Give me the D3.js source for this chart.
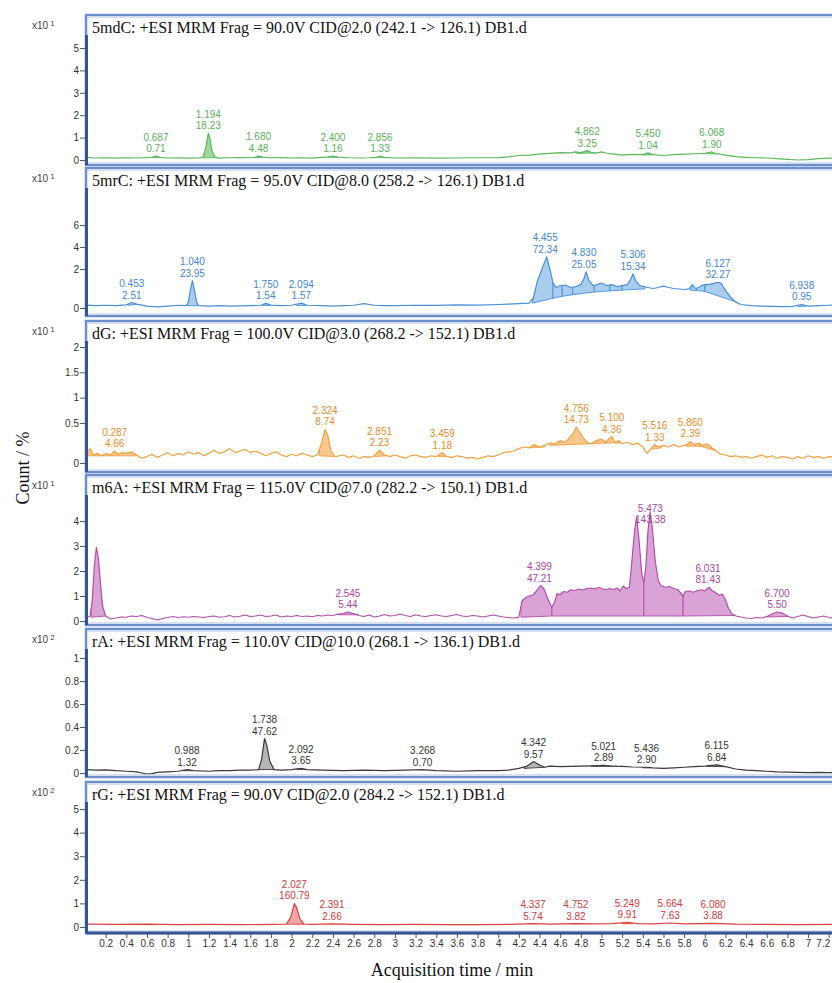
<!DOCTYPE html>
<html><head><meta charset="utf-8">
<script src="https://cdn.jsdelivr.net/npm/d3@7"></script>
<style>body{margin:0;background:#fff} svg{display:block}</style>
</head><body><svg id="c" width="832" height="983"></svg>
<script>
// ---------------- DATA ----------------
const xTicks = [0.2,0.4,0.6,0.8,1,1.2,1.4,1.6,1.8,2,2.2,2.4,2.6,2.8,3,3.2,3.4,3.6,3.8,4,4.2,4.4,4.6,4.8,5,5.2,5.4,5.6,5.8,6,6.2,6.4,6.6,6.8,7,7.2];
const titles = [
  "5mdC: +ESI MRM Frag = 90.0V CID@2.0 (242.1 -> 126.1) DB1.d",
  "5mrC: +ESI MRM Frag = 95.0V CID@8.0 (258.2 -> 126.1) DB1.d",
  "dG: +ESI MRM Frag = 100.0V CID@3.0 (268.2 -> 152.1) DB1.d",
  "m6A: +ESI MRM Frag = 115.0V CID@7.0 (282.2 -> 150.1) DB1.d",
  "rA: +ESI MRM Frag = 110.0V CID@10.0 (268.1 -> 136.1) DB1.d",
  "rG: +ESI MRM Frag = 90.0V CID@2.0 (284.2 -> 152.1) DB1.d"
];
const exponents = [1,1,1,1,2,2];
const yTicks = [[0,1,2,3,4,5],[0,2,4,6],[0,0.5,1,1.5,2],[0,1,2,3,4],[0,0.2,0.4,0.6,0.8,1],[0,1,2,3,4,5]];
const yTickLabels = [["0","1","2","3","4","5"],["0","2","4","6"],["0","0.5","1","1.5","2"],["0","1","2","3","4"],["0","0.2","0.4","0.6","0.8","1"],["0","1","2","3","4","5"]];

const trace5mdC = [[0.02,0.12],[0.1,0.09],[0.2,0.1],[0.3,0.08],[0.4,0.1],[0.5,0.09],[0.6,0.11],[0.65,0.13],[0.687,0.17],[0.73,0.12],[0.8,0.09],[0.9,0.1],[1.0,0.08],[1.1,0.09],[1.14,0.12],[1.17,0.55],[1.194,1.2],[1.21,0.95],[1.23,0.4],[1.26,0.12],[1.3,0.08],[1.4,0.1],[1.5,0.11],[1.6,0.1],[1.65,0.13],[1.68,0.18],[1.72,0.13],[1.8,0.1],[1.9,0.11],[2.0,0.09],[2.1,0.1],[2.2,0.08],[2.3,0.12],[2.35,0.14],[2.4,0.17],[2.45,0.13],[2.55,0.1],[2.65,0.09],[2.75,0.1],[2.82,0.12],[2.856,0.16],[2.9,0.12],[3.0,0.09],[3.2,0.1],[3.4,0.08],[3.6,0.09],[3.8,0.1],[4.0,0.11],[4.1,0.14],[4.2,0.2],[4.3,0.22],[4.4,0.26],[4.5,0.3],[4.6,0.33],[4.7,0.32],[4.75,0.36],[4.8,0.33],[4.862,0.42],[4.9,0.34],[4.95,0.31],[5.0,0.36],[5.05,0.3],[5.1,0.27],[5.2,0.22],[5.3,0.25],[5.4,0.24],[5.45,0.32],[5.5,0.24],[5.6,0.2],[5.7,0.24],[5.8,0.26],[5.9,0.28],[6.0,0.3],[6.068,0.36],[6.1,0.3],[6.2,0.22],[6.3,0.15],[6.4,0.12],[6.5,0.1],[6.6,0.09],[6.7,0.06],[6.8,0.03],[6.9,0.0],[7.0,0.02],[7.1,0.06],[7.2,0.08],[7.3,0.09]];
const trace5mrC = [[0.02,0.15],[0.1,0.12],[0.2,0.14],[0.3,0.12],[0.4,0.16],[0.453,0.28],[0.5,0.2],[0.6,0.1],[0.7,0.06],[0.8,0.1],[0.9,0.14],[0.98,0.12],[1.0,0.3],[1.02,0.9],[1.04,1.4],[1.06,0.9],[1.08,0.3],[1.1,0.12],[1.2,0.1],[1.3,0.12],[1.4,0.1],[1.5,0.11],[1.6,0.12],[1.7,0.14],[1.75,0.24],[1.8,0.15],[1.9,0.12],[2.0,0.14],[2.094,0.25],[2.15,0.14],[2.3,0.12],[2.4,0.1],[2.5,0.12],[2.6,0.14],[2.7,0.22],[2.8,0.14],[2.9,0.12],[3.0,0.12],[3.2,0.14],[3.4,0.13],[3.6,0.16],[3.8,0.15],[4.0,0.18],[4.1,0.2],[4.2,0.22],[4.3,0.25],[4.34,0.5],[4.38,1.4],[4.42,1.95],[4.44,2.4],[4.47,3.1],[4.5,2.0],[4.53,1.3],[4.56,1.05],[4.6,1.15],[4.65,1.18],[4.7,1.05],[4.75,1.1],[4.8,1.2],[4.83,1.5],[4.85,1.85],[4.88,1.4],[4.92,1.15],[4.96,1.2],[5.0,1.28],[5.05,1.15],[5.1,1.2],[5.15,1.1],[5.2,1.15],[5.25,1.2],[5.28,1.45],[5.306,1.75],[5.33,1.4],[5.37,1.15],[5.45,1.05],[5.5,1.0],[5.55,1.05],[5.6,1.12],[5.65,1.05],[5.7,1.0],[5.8,0.95],[5.85,0.98],[5.88,1.2],[5.91,1.0],[5.94,1.05],[5.97,1.15],[6.0,1.2],[6.05,1.22],[6.1,1.28],[6.127,1.32],[6.16,1.25],[6.2,0.9],[6.25,0.55],[6.3,0.3],[6.35,0.18],[6.45,0.12],[6.55,0.1],[6.65,0.08],[6.75,0.07],[6.85,0.08],[6.938,0.18],[7.0,0.1],[7.1,0.12],[7.2,0.14],[7.3,0.15]];
const tracedG = [[0.02,0.14],[0.05,0.18],[0.08,0.1],[0.12,0.12],[0.16,0.09],[0.2,0.12],[0.25,0.1],[0.287,0.15],[0.32,0.11],[0.36,0.13],[0.4,0.12],[0.45,0.14],[0.5,0.1],[0.55,0.06],[0.6,0.08],[0.65,0.11],[0.7,0.07],[0.75,0.1],[0.8,0.13],[0.85,0.09],[0.9,0.12],[0.95,0.1],[1.0,0.14],[1.05,0.11],[1.1,0.13],[1.15,0.09],[1.2,0.12],[1.25,0.16],[1.3,0.12],[1.35,0.14],[1.4,0.18],[1.45,0.13],[1.5,0.15],[1.55,0.17],[1.6,0.13],[1.65,0.15],[1.7,0.12],[1.75,0.09],[1.8,0.12],[1.85,0.14],[1.9,0.1],[1.95,0.08],[2.0,0.11],[2.05,0.09],[2.1,0.12],[2.15,0.1],[2.2,0.08],[2.25,0.1],[2.29,0.25],[2.324,0.42],[2.35,0.35],[2.38,0.15],[2.42,0.08],[2.5,0.1],[2.55,0.07],[2.6,0.09],[2.65,0.06],[2.7,0.08],[2.75,0.07],[2.8,0.09],[2.851,0.16],[2.9,0.1],[2.95,0.08],[3.0,0.1],[3.05,0.08],[3.1,0.06],[3.15,0.09],[3.2,0.1],[3.25,0.08],[3.3,0.07],[3.35,0.09],[3.4,0.08],[3.459,0.13],[3.5,0.08],[3.55,0.07],[3.6,0.09],[3.65,0.08],[3.7,0.06],[3.75,0.07],[3.8,0.05],[3.85,0.07],[3.9,0.09],[3.95,0.08],[4.0,0.1],[4.05,0.13],[4.1,0.14],[4.15,0.15],[4.2,0.18],[4.25,0.2],[4.3,0.19],[4.35,0.23],[4.4,0.2],[4.45,0.22],[4.5,0.25],[4.55,0.24],[4.6,0.28],[4.65,0.26],[4.7,0.33],[4.73,0.38],[4.756,0.45],[4.78,0.4],[4.82,0.32],[4.86,0.26],[4.9,0.24],[4.95,0.28],[5.0,0.3],[5.04,0.26],[5.07,0.3],[5.1,0.33],[5.13,0.26],[5.17,0.28],[5.2,0.24],[5.25,0.26],[5.3,0.23],[5.35,0.25],[5.4,0.2],[5.44,0.12],[5.48,0.18],[5.516,0.23],[5.55,0.2],[5.6,0.22],[5.65,0.2],[5.7,0.23],[5.75,0.2],[5.8,0.22],[5.84,0.24],[5.86,0.27],[5.9,0.23],[5.94,0.25],[5.98,0.22],[6.02,0.24],[6.06,0.2],[6.1,0.16],[6.15,0.11],[6.2,0.1],[6.25,0.08],[6.3,0.09],[6.35,0.07],[6.4,0.08],[6.45,0.06],[6.5,0.08],[6.55,0.1],[6.6,0.07],[6.65,0.09],[6.7,0.06],[6.75,0.08],[6.8,0.07],[6.85,0.05],[6.9,0.08],[6.95,0.06],[7.0,0.09],[7.05,0.07],[7.1,0.08],[7.15,0.06],[7.2,0.08],[7.3,0.07]];
const tracem6A = [[0.02,0.15],[0.05,0.2],[0.07,0.8],[0.09,2.2],[0.11,2.95],[0.13,2.5],[0.15,1.5],[0.17,0.6],[0.2,0.2],[0.25,0.08],[0.3,0.12],[0.35,0.16],[0.4,0.15],[0.45,0.2],[0.5,0.18],[0.55,0.22],[0.6,0.14],[0.65,0.1],[0.7,0.04],[0.75,0.1],[0.8,0.14],[0.85,0.18],[0.9,0.14],[0.95,0.17],[1.0,0.15],[1.05,0.18],[1.1,0.16],[1.15,0.14],[1.2,0.18],[1.25,0.2],[1.3,0.15],[1.35,0.17],[1.4,0.22],[1.45,0.16],[1.5,0.19],[1.55,0.24],[1.6,0.18],[1.65,0.2],[1.7,0.24],[1.75,0.18],[1.8,0.2],[1.85,0.24],[1.9,0.16],[1.95,0.2],[2.0,0.18],[2.05,0.22],[2.1,0.18],[2.15,0.2],[2.2,0.17],[2.25,0.22],[2.3,0.2],[2.35,0.24],[2.4,0.22],[2.45,0.28],[2.5,0.3],[2.545,0.36],[2.6,0.3],[2.65,0.22],[2.7,0.18],[2.75,0.24],[2.8,0.16],[2.85,0.2],[2.9,0.26],[2.95,0.2],[3.0,0.22],[3.05,0.28],[3.1,0.22],[3.15,0.18],[3.2,0.25],[3.25,0.2],[3.3,0.18],[3.35,0.22],[3.4,0.25],[3.45,0.2],[3.5,0.18],[3.55,0.22],[3.6,0.26],[3.65,0.2],[3.7,0.18],[3.75,0.22],[3.8,0.2],[3.85,0.16],[3.9,0.2],[3.95,0.24],[4.0,0.2],[4.05,0.16],[4.1,0.14],[4.15,0.12],[4.2,0.15],[4.23,0.8],[4.27,0.95],[4.3,1.0],[4.34,1.05],[4.37,1.2],[4.41,1.42],[4.44,1.3],[4.47,1.0],[4.5,0.7],[4.52,0.55],[4.55,0.8],[4.57,1.1],[4.6,1.05],[4.63,1.18],[4.67,1.15],[4.7,1.25],[4.74,1.22],[4.78,1.28],[4.82,1.24],[4.86,1.3],[4.9,1.32],[4.94,1.28],[4.97,1.35],[5.0,1.3],[5.04,1.25],[5.08,1.3],[5.12,1.26],[5.15,1.32],[5.18,1.2],[5.21,1.4],[5.24,1.3],[5.27,1.35],[5.29,2.2],[5.32,3.6],[5.34,4.15],[5.36,3.4],[5.39,1.9],[5.41,1.5],[5.43,2.2],[5.45,3.6],[5.47,4.35],[5.49,3.8],[5.52,2.4],[5.55,1.6],[5.58,1.4],[5.62,1.35],[5.66,1.38],[5.7,1.3],[5.74,1.25],[5.77,1.1],[5.79,1.0],[5.81,1.18],[5.85,1.2],[5.89,1.15],[5.93,1.22],[5.97,1.25],[6.0,1.2],[6.04,1.35],[6.07,1.22],[6.1,1.15],[6.14,1.02],[6.17,1.08],[6.2,0.85],[6.23,0.5],[6.26,0.3],[6.3,0.2],[6.35,0.16],[6.4,0.12],[6.45,0.1],[6.5,0.14],[6.55,0.12],[6.6,0.18],[6.65,0.28],[6.7,0.36],[6.75,0.32],[6.8,0.2],[6.85,0.12],[6.9,0.18],[6.95,0.24],[7.0,0.18],[7.05,0.12],[7.1,0.16],[7.15,0.2],[7.2,0.14],[7.25,0.12],[7.3,0.15]];
const tracerA = [[0.02,0.03],[0.1,0.025],[0.2,0.028],[0.3,0.02],[0.4,0.015],[0.5,0.01],[0.55,0.0],[0.6,-0.01],[0.65,-0.005],[0.7,0.005],[0.8,0.01],[0.9,0.015],[0.988,0.03],[1.05,0.02],[1.2,0.015],[1.3,0.02],[1.4,0.02],[1.5,0.025],[1.6,0.025],[1.68,0.03],[1.71,0.12],[1.738,0.3],[1.76,0.24],[1.79,0.1],[1.83,0.03],[1.9,0.025],[2.0,0.03],[2.092,0.04],[2.15,0.03],[2.3,0.025],[2.5,0.02],[2.7,0.025],[2.9,0.02],[3.1,0.025],[3.268,0.03],[3.4,0.02],[3.6,0.015],[3.8,0.02],[4.0,0.02],[4.1,0.025],[4.2,0.04],[4.28,0.06],[4.342,0.1],[4.4,0.07],[4.45,0.05],[4.5,0.06],[4.6,0.055],[4.7,0.058],[4.8,0.06],[4.9,0.062],[5.021,0.066],[5.1,0.06],[5.2,0.058],[5.3,0.052],[5.436,0.05],[5.5,0.045],[5.6,0.04],[5.7,0.045],[5.8,0.05],[5.9,0.055],[6.0,0.06],[6.115,0.07],[6.2,0.055],[6.3,0.035],[6.4,0.025],[6.5,0.02],[6.6,0.015],[6.7,0.01],[6.8,0.008],[6.9,0.005],[7.0,0.003],[7.1,0.005],[7.2,0.003],[7.3,0.002]];
const tracerG = [[0.02,0.12],[0.3,0.11],[0.6,0.12],[0.9,0.1],[1.2,0.11],[1.5,0.1],[1.8,0.11],[1.95,0.12],[1.99,0.4],[2.027,1.0],[2.05,0.8],[2.08,0.35],[2.12,0.12],[2.2,0.11],[2.391,0.13],[2.6,0.11],[2.9,0.1],[3.2,0.11],[3.5,0.1],[3.8,0.1],[4.1,0.11],[4.337,0.14],[4.5,0.12],[4.752,0.14],[4.9,0.13],[5.1,0.14],[5.249,0.2],[5.35,0.14],[5.5,0.13],[5.664,0.17],[5.8,0.13],[6.08,0.15],[6.3,0.12],[6.6,0.11],[6.9,0.1],[7.3,0.11]];

// integrated regions: [start, end, baseline at start, baseline at end]
const fills5mdC = [[0.65,0.73,0.1,0.11],[1.15,1.26,0.1,0.1],[1.64,1.72,0.1,0.12],[2.35,2.45,0.12,0.12],[2.82,2.9,0.11,0.12],[4.75,4.95,0.3,0.31],[5.4,5.5,0.22,0.23],[6.0,6.13,0.28,0.27]];
const fills5mrC = [[0.42,0.5,0.14,0.18],[0.99,1.1,0.12,0.12],[1.72,1.79,0.13,0.14],[2.05,2.14,0.13,0.14],[4.33,4.53,0.25,0.5],[4.53,4.62,0.5,0.6],[4.62,4.72,0.6,0.68],[4.72,4.93,0.68,0.82],[4.93,5.08,0.82,0.88],[5.08,5.2,0.88,0.92],[5.2,5.42,0.92,0.98],[5.86,5.92,0.92,0.9],[5.92,6.0,0.9,0.85],[6.0,6.32,0.85,0.28],[6.9,6.98,0.08,0.09]];
const fillsdG = [[0.02,0.5,0.09,0.09],[2.27,2.42,0.09,0.08],[2.8,2.92,0.08,0.09],[3.42,3.5,0.08,0.08],[4.3,4.45,0.19,0.2],[4.5,4.88,0.22,0.24],[4.9,5.05,0.24,0.25],[5.05,5.18,0.25,0.25],[5.47,5.58,0.17,0.19],[5.82,5.95,0.21,0.21],[5.95,6.12,0.21,0.15]];
const fillsm6A = [[0.06,0.2,0.15,0.2],[2.45,2.65,0.25,0.25],[4.22,4.52,0.15,0.2],[4.52,5.41,0.2,0.2],[5.41,5.79,0.2,0.2],[5.79,6.28,0.2,0.22],[6.6,6.82,0.16,0.18]];
const fillsrA = [[0.95,1.04,0.02,0.02],[1.68,1.84,0.03,0.03],[2.05,2.14,0.03,0.03],[4.25,4.45,0.04,0.05],[4.9,5.15,0.058,0.058],[5.4,5.48,0.045,0.045],[6.02,6.2,0.058,0.055]];
const fillsrG = [[1.96,2.12,0.12,0.12],[5.2,5.3,0.14,0.14]];

// peak annotations: [retention time label, area label]
const labels5mdC = [["0.687","0.71"],["1.194","18.23"],["1.680","4.48"],["2.400","1.16"],["2.856","1.33"],["4.862","3.25"],["5.450","1.04"],["6.068","1.90"]];
const labels5mrC = [["0.453","2.51"],["1.040","23.95"],["1.750","1.54"],["2.094","1.57"],["4.455","72.34"],["4.830","25.05"],["5.306","15.34"],["6.127","32.27"],["6.938","0.95"]];
const labelsdG = [["0.287","4.66"],["2.324","8.74"],["2.851","2.23"],["3.459","1.18"],["4.756","14.73"],["5.100","4.36"],["5.516","1.33"],["5.860","2.39"]];
const labelsm6A = [["2.545","5.44"],["4.399","47.21"],["5.473","143.38"],["6.031","81.43"],["6.700","5.50"]];
const labelsrA = [["0.988","1.32"],["1.738","47.62"],["2.092","3.65"],["3.268","0.70"],["4.342","9.57"],["5.021","2.89"],["5.436","2.90"],["6.115","6.84"]];
const labelsrG = [["2.027","160.79"],["2.391","2.66"],["4.337","5.74"],["4.752","3.82"],["5.249","9.91"],["5.664","7.63"],["6.080","3.88"]];

const lineColors = ["#5cb85c","#4a8fd6","#f0a043","#b24ea9","#3a3a3a","#d9403e"];
const fillColors = ["#9fd89f","#a9cdef","#f7c88e","#d9a3d5","#b5b5b5","#f2a5a5"];
const textColors = ["#5aae5a","#3f86cf","#e48d2b","#a8459f","#333333","#d03a38"];

// ---------------- LAYOUT ----------------
const traces = [trace5mdC, trace5mrC, tracedG, tracem6A, tracerA, tracerG];
const fills = [fills5mdC, fills5mrC, fillsdG, fillsm6A, fillsrA, fillsrG];
const labels = [labels5mdC, labels5mrC, labelsdG, labelsm6A, labelsrA, labelsrG];
const tops = [15,168,321,475,629,782];
const bottoms = [165,316,472,625,777,933];
const yDomains = [[0,5],[0,2,6],[0,0.5,2],[0,4],[0,1],[0,5]];
const yRanges = [[160,48],[308,269,225],[463,423,347],[621,521],[773,658],[927,809]];

const svg = d3.select("#c");
const x = d3.scaleLinear().domain([0,7.3]).range([85,85+7.3*103.3]);
const plotLeft = 87, plotRight = 845;

function interp(tr, t){
  const i = d3.bisector(d=>d[0]).left(tr, t);
  if(i<=0) return tr[0][1];
  if(i>=tr.length) return tr[tr.length-1][1];
  const a = tr[i-1], b = tr[i];
  return a[1] + (b[1]-a[1])*(t-a[0])/(b[0]-a[0]);
}

for(let p=0;p<6;p++){
  const top = tops[p], bot = bottoms[p];
  const y = d3.scaleLinear().domain(yDomains[p]).range(yRanges[p]);
  const g = svg.append("g");
  const cid = "clip"+p;
  svg.append("clipPath").attr("id",cid).append("rect")
    .attr("x",plotLeft).attr("y",top+2).attr("width",plotRight-plotLeft).attr("height",bot-top-3);
  const pg = g.append("g").attr("clip-path",`url(#${cid})`);
  const tr = traces[p];

  // fills
  fills[p].forEach(f=>{
    const [s,e,b0,b1] = f;
    const pts = [[s, interp(tr,s)]].concat(tr.filter(d=>d[0]>s && d[0]<e)).concat([[e, interp(tr,e)]]);
    const base = t => b0 + (b1-b0)*(t-s)/(e-s);
    const area = d3.area().x(d=>x(d[0])).y0(d=>y(base(d[0]))).y1(d=>y(Math.max(d[1], base(d[0]))));
    pg.append("path").attr("d",area(pts)).attr("fill",fillColors[p]).attr("stroke","none");
    pg.append("line").attr("x1",x(s)).attr("x2",x(e)).attr("y1",y(b0)).attr("y2",y(b1))
      .attr("stroke",lineColors[p]).attr("stroke-width",0.9);
    [[s,b0],[e,b1]].forEach(([t,b])=>{
      pg.append("line").attr("x1",x(t)).attr("x2",x(t)).attr("y1",y(b)).attr("y2",y(Math.max(b,interp(tr,t))))
        .attr("stroke",lineColors[p]).attr("stroke-width",0.9);
    });
  });

  // trace
  pg.append("path").attr("d",d3.line().x(d=>x(d[0])).y(d=>y(d[1]))(tr))
    .attr("fill","none").attr("stroke",lineColors[p]).attr("stroke-width",1.2).attr("stroke-linejoin","round");

  // peak labels
  labels[p].forEach(([rt,ar])=>{
    const t = +rt;
    let apex = interp(tr,t);
    tr.forEach(d=>{ if(Math.abs(d[0]-t)<=0.035) apex = Math.max(apex,d[1]); });
    const areaY = Math.max(y(apex)-4, top+48);
    const lg = g.append("g").attr("font-family","'Liberation Sans', Arial, sans-serif").attr("font-size",10)
      .attr("fill",textColors[p]).attr("text-anchor","middle");
    lg.append("text").attr("x",x(t)).attr("y",areaY-11.5).text(rt);
    lg.append("text").attr("x",x(t)).attr("y",areaY).text(ar);
  });

  // frame
  g.append("rect").attr("x",86).attr("y",top).attr("width",800).attr("height",bot-top)
    .attr("fill","none").attr("stroke","#6b8fcc").attr("stroke-width",2.5);
  g.append("line").attr("x1",87).attr("x2",840).attr("y1",top+2.2).attr("y2",top+2.2)
    .attr("stroke","#c3d3ec").attr("stroke-width",1);
  g.append("line").attr("x1",87).attr("x2",840).attr("y1",bot-2.2).attr("y2",bot-2.2)
    .attr("stroke","#c3d3ec").attr("stroke-width",1);
  g.append("line").attr("x1",86.5).attr("x2",86.5).attr("y1",top+20).attr("y2",bot)
    .attr("stroke","#34558f").attr("stroke-width",3);

  // y axis
  const ya = d3.axisLeft(y).tickValues(yTicks[p]).tickSize(5).tickPadding(1)
    .tickFormat((d,i)=>yTickLabels[p][i]);
  const yg = g.append("g").attr("transform","translate(85,0)").call(ya);
  yg.select(".domain").remove();
  yg.selectAll("line").attr("stroke","#555");
  yg.selectAll("text").attr("font-family","'Liberation Sans', Arial, sans-serif").attr("font-size",10).attr("fill","#333");

  // title
  g.append("text").attr("x",92).attr("y",top+18).attr("font-family","'Liberation Serif','Times New Roman',serif")
    .attr("font-size",16).attr("fill","#111").text(titles[p]);
  // multiplier
  const mt = g.append("text").attr("x",32).attr("y",top+14).attr("font-family","'Liberation Sans', Arial, sans-serif")
    .attr("font-size",10).attr("fill","#444");
  mt.append("tspan").text("x10");
  mt.append("tspan").attr("font-size",8).attr("dx",2).attr("dy",-3).text(exponents[p]);
}

// x axis
const xa = d3.axisBottom(x).tickValues(xTicks).tickSize(4).tickPadding(2).tickFormat(d3.format("~g"));
const xg = svg.append("g").attr("transform","translate(0,934)").call(xa);
xg.select(".domain").remove();
xg.selectAll("line").attr("stroke","#555");
xg.selectAll("text").attr("font-family","'Liberation Sans', Arial, sans-serif").attr("font-size",10).attr("fill","#333");
xg.selectAll(".tick").filter(d=>x(d)+8>832).select("text").attr("text-anchor","end").attr("dx",1);
svg.append("line").attr("x1",86).attr("x2",840).attr("y1",933).attr("y2",933).attr("stroke","#34558f").attr("stroke-width",3);

// axis titles
svg.append("text").attr("x",452).attr("y",976).attr("text-anchor","middle")
  .attr("font-family","'Liberation Serif','Times New Roman',serif").attr("font-size",18).attr("fill","#111")
  .text("Acquisition time / min");
svg.append("text").attr("transform","translate(29,468) rotate(-90)").attr("text-anchor","middle")
  .attr("font-family","'Liberation Serif','Times New Roman',serif").attr("font-size",18).attr("fill","#111")
  .text("Count / %");
</script></body></html>
